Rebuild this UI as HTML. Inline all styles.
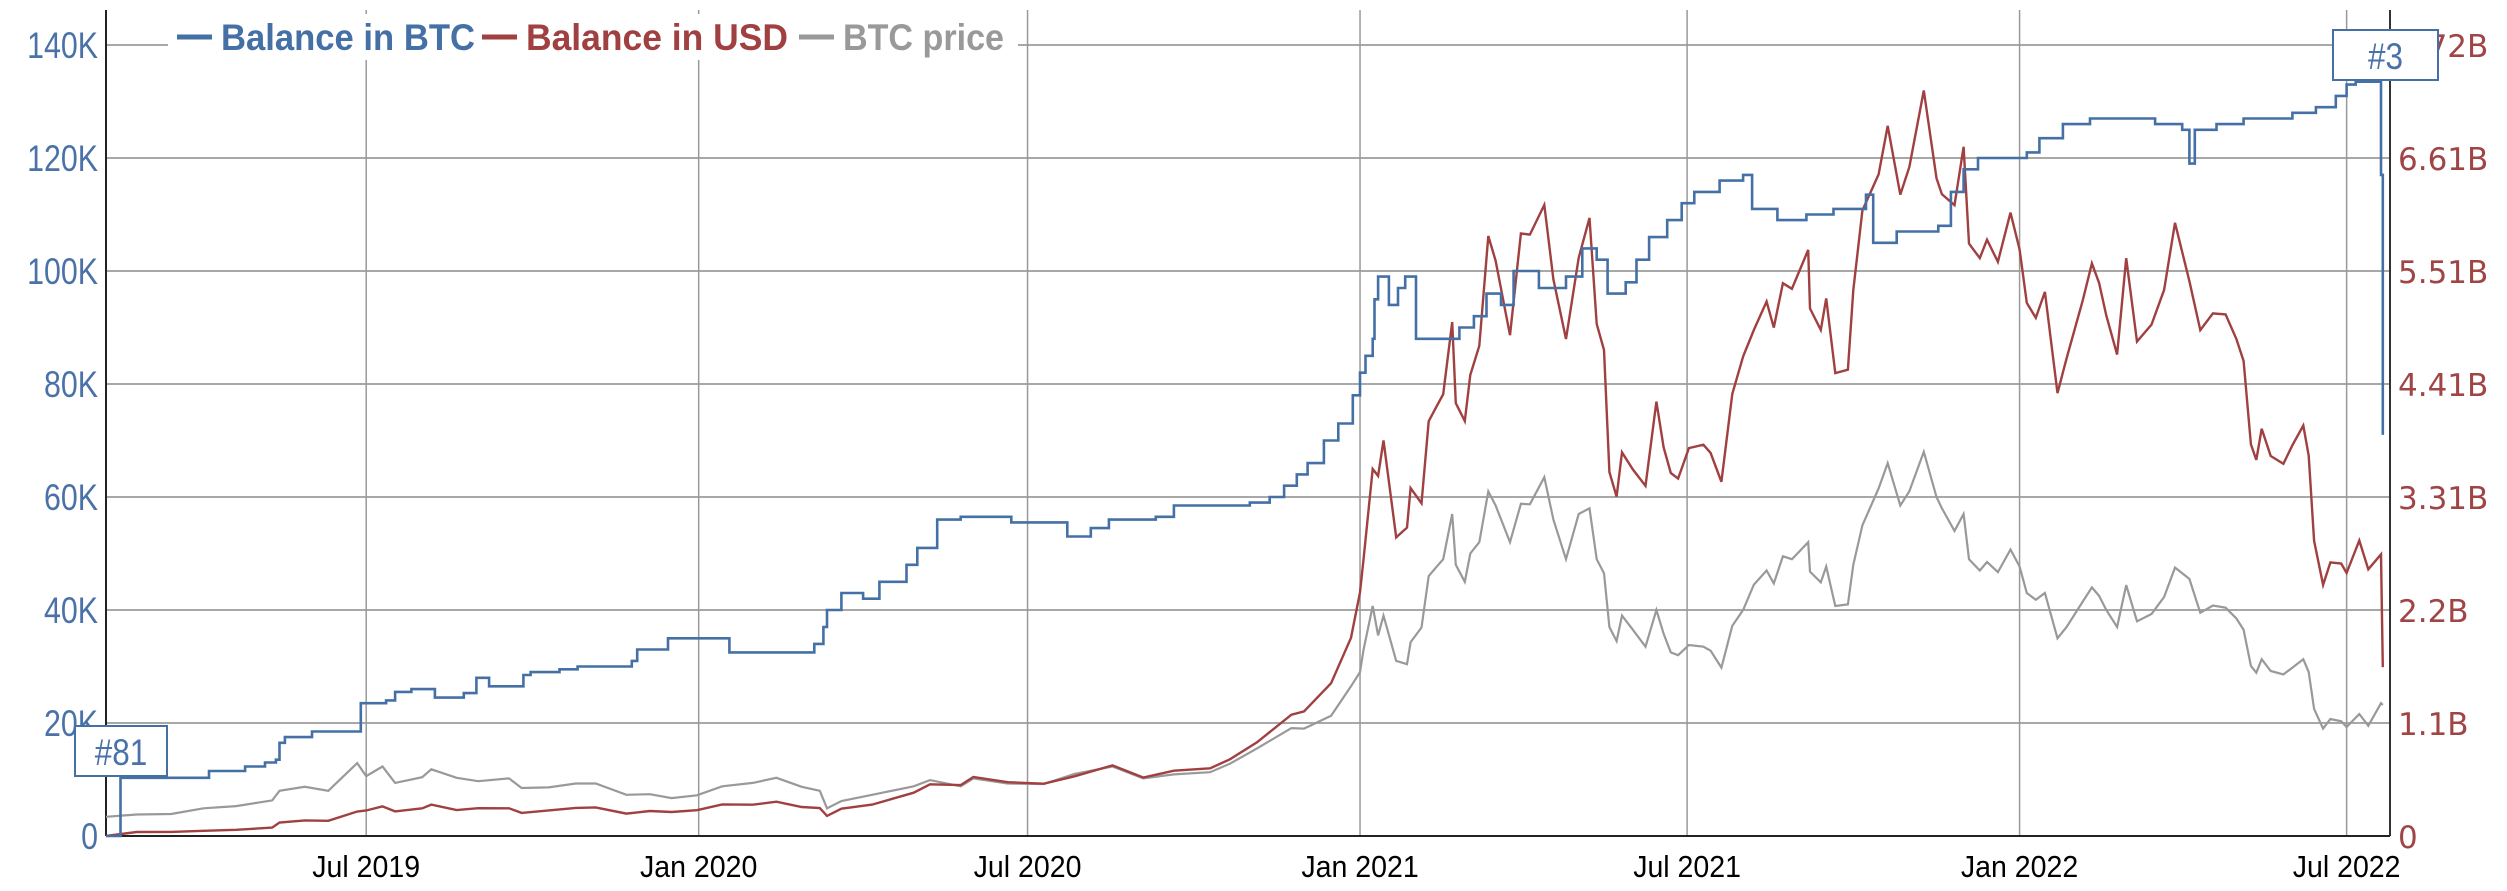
<!DOCTYPE html>
<html><head><meta charset="utf-8">
<style>
html,body{margin:0;padding:0;background:#fff;width:2507px;height:891px;overflow:hidden}
svg{display:block}
.lt{font-family:"Liberation Sans",sans-serif;font-size:37px;fill:#4a72a8}
.rt{font-family:"DejaVu Sans",sans-serif;font-size:31px;fill:#a04545}
.xt{font-family:"Liberation Sans",sans-serif;font-size:31px;fill:#000}
.lg{font-family:"Liberation Sans",sans-serif;font-size:37px;font-weight:bold}
</style></head><body>
<svg id="chart" width="2507" height="891"></svg>
<script>
// ---- data ----
const btcDates = ["2019-02-07","2019-02-15","2019-04-05","2019-04-25","2019-05-06","2019-05-12","2019-05-14","2019-05-17","2019-06-01","2019-06-28","2019-07-12","2019-07-17","2019-07-26","2019-08-08","2019-08-24","2019-08-31","2019-09-07","2019-09-26","2019-09-30","2019-10-16","2019-10-26","2019-11-25","2019-11-28","2019-12-15","2020-01-18","2020-03-05","2020-03-10","2020-03-12","2020-03-20","2020-04-01","2020-04-10","2020-04-25","2020-05-01","2020-05-12","2020-05-25","2020-06-22","2020-07-23","2020-08-05","2020-08-15","2020-09-10","2020-09-20","2020-11-01","2020-11-12","2020-11-20","2020-11-27","2020-12-03","2020-12-12","2020-12-20","2020-12-28","2021-01-01","2021-01-04","2021-01-08","2021-01-09","2021-01-11","2021-01-17","2021-01-22","2021-01-26","2021-02-01","2021-02-25","2021-03-05","2021-03-12","2021-03-20","2021-03-27","2021-04-10","2021-04-25","2021-05-04","2021-05-12","2021-05-18","2021-05-28","2021-06-03","2021-06-10","2021-06-20","2021-06-28","2021-07-05","2021-07-19","2021-08-01","2021-08-06","2021-08-20","2021-09-05","2021-09-20","2021-10-08","2021-10-12","2021-10-25","2021-11-17","2021-11-24","2021-12-01","2021-12-09","2022-01-05","2022-01-12","2022-01-25","2022-02-09","2022-03-17","2022-04-01","2022-04-05","2022-04-08","2022-04-20","2022-05-05","2022-06-01","2022-06-14","2022-06-25","2022-07-01","2022-07-06","2022-07-17","2022-07-20","2022-07-21"];
const btcValues = [0,10300,11500,12300,13000,13500,16500,17500,18500,23500,24000,25500,26000,24500,25300,28000,26500,28500,29000,29500,30000,31000,33000,35000,32500,34000,37000,40000,43000,42000,45000,48000,51000,56000,56500,55500,53000,54500,56000,56500,58500,59000,60000,62000,64000,66000,70000,73000,78000,82000,85000,88000,95000,99000,94000,97000,99000,88000,90000,92000,96000,94000,100000,97000,99000,104000,102000,96000,98000,102000,106000,109000,112000,114000,116000,117000,111000,109000,110000,111000,113500,105000,107000,108000,114000,118000,120000,121000,123500,126000,127000,126000,125000,119000,125000,126000,127000,128000,129000,131000,133000,133500,133500,117000,71000];
const priceDates = ["2019-02-07","2019-02-24","2019-03-15","2019-04-02","2019-04-20","2019-05-10","2019-05-14","2019-05-28","2019-06-10","2019-06-26","2019-07-01","2019-07-10","2019-07-17","2019-08-01","2019-08-06","2019-08-20","2019-09-01","2019-09-18","2019-09-25","2019-10-10","2019-10-25","2019-11-05","2019-11-22","2019-12-05","2019-12-17","2019-12-31","2020-01-14","2020-01-31","2020-02-13","2020-02-27","2020-03-08","2020-03-12","2020-03-20","2020-04-06","2020-04-29","2020-05-08","2020-05-25","2020-06-01","2020-06-20","2020-07-10","2020-07-27","2020-08-17","2020-09-03","2020-09-20","2020-10-10","2020-10-21","2020-11-05","2020-11-24","2020-12-01","2020-12-16","2020-12-27",
"2021-01-01","2021-01-03","2021-01-08","2021-01-11","2021-01-14","2021-01-21","2021-01-27","2021-01-29","2021-02-04","2021-02-08","2021-02-12","2021-02-16","2021-02-21","2021-02-23","2021-02-28","2021-03-03","2021-03-08","2021-03-13","2021-03-17","2021-03-25","2021-03-31","2021-04-05","2021-04-13","2021-04-18","2021-04-25","2021-05-02","2021-05-08","2021-05-12","2021-05-16","2021-05-19","2021-05-23","2021-05-26","2021-06-01","2021-06-08","2021-06-14","2021-06-18","2021-06-22","2021-06-26","2021-07-02","2021-07-10","2021-07-14","2021-07-20","2021-07-26","2021-08-01","2021-08-07","2021-08-14","2021-08-18","2021-08-23","2021-08-28","2021-09-06","2021-09-07","2021-09-13","2021-09-16","2021-09-21","2021-09-28","2021-10-01","2021-10-06","2021-10-15","2021-10-20","2021-10-27","2021-11-01","2021-11-09","2021-11-16","2021-11-19","2021-11-26","2021-12-01","2021-12-04","2021-12-10","2021-12-14","2021-12-20","2021-12-27",
"2022-01-01","2022-01-05","2022-01-10","2022-01-15","2022-01-22","2022-01-27","2022-02-05","2022-02-10","2022-02-14","2022-02-18","2022-02-24","2022-03-01","2022-03-07","2022-03-15","2022-03-22","2022-03-28","2022-04-05","2022-04-11","2022-04-18","2022-04-25","2022-05-01","2022-05-05","2022-05-09","2022-05-12","2022-05-15","2022-05-20","2022-05-27","2022-06-01","2022-06-07","2022-06-10","2022-06-13","2022-06-18","2022-06-22","2022-06-28","2022-07-01","2022-07-08","2022-07-13","2022-07-20","2022-07-21"];
const priceValues = [3400,3800,3900,4900,5300,6300,8000,8700,8000,12900,10600,12300,9400,10400,11800,10300,9700,10200,8500,8600,9300,9300,7300,7400,6700,7200,8800,9400,10300,8700,8000,4900,6200,7300,8800,9900,8800,10200,9300,9200,11000,12300,10200,10900,11300,12800,15500,19100,19000,21300,26500,
29000,33000,40700,35500,39000,31000,30400,34300,36900,46000,47500,49000,57000,48000,45000,50000,52000,61000,58500,52000,58800,58700,63500,56000,49000,57000,58000,49000,46500,37000,34500,39000,36500,33500,40000,35800,32500,32000,33800,33500,32800,29800,37200,40000,44500,47000,44700,49500,49000,52000,46800,44900,47700,40700,41000,48000,55000,61500,66000,58500,61000,68000,60000,58000,54000,57000,49000,47000,48500,46700,50700,
47700,43000,41800,43000,35000,37000,41500,44000,42500,40000,37000,44400,38000,39300,42300,47500,45500,39500,40800,40400,38500,36500,30100,28900,31300,29200,28600,29800,31300,29000,22500,19000,20700,20300,19300,21600,19500,23500,23200];
const leftTicks = [0,20000,40000,60000,80000,100000,120000,140000];
const leftTickLabels = ["0","20K","40K","60K","80K","100K","120K","140K"];
const rightTickLabels = ["0","1.1B","2.2B","3.31B","4.41B","5.51B","6.61B","7.72B"];
const xTickDates = ["2019-07-01","2020-01-01","2020-07-01","2021-01-01","2021-07-01","2022-01-01","2022-07-01"];
const xTickLabels = ["Jul 2019","Jan 2020","Jul 2020","Jan 2021","Jul 2021","Jan 2022","Jul 2022"];
const legendNames = ["Balance in BTC","Balance in USD","BTC price"];
const usdMax = 7.72e9, leftMax = 140000;

// ---- layout ----
const L=106,R=2390,B=836,T=45;
const t0=Date.parse("2019-02-07"), t1=Date.parse("2022-07-25");
const X=d=>L+(Date.parse(d)-t0)/(t1-t0)*(R-L);
const Y=v=>B-v/leftMax*(B-T);
const NS="http://www.w3.org/2000/svg";
const svg=document.getElementById('chart');
function mk(tag,attrs,parent){const e=document.createElementNS(NS,tag);for(const k in attrs)e.setAttribute(k,attrs[k]);(parent||svg).appendChild(e);return e;}
function condense(t,f){const w=t.getComputedTextLength();t.setAttribute('textLength',(w*f).toFixed(1));t.setAttribute('lengthAdjust','spacingAndGlyphs');}

// grid
leftTicks.forEach((v,i)=>{
  const g=mk('line',{x1:L,x2:R,y1:Y(v),y2:Y(v),stroke:'#a8a8a8','stroke-width':2});
  
  
  const t=mk('text',{x:98,y:Y(v)+13,'text-anchor':'end',class:'lt'});t.textContent=leftTickLabels[i];
  
  
  condense(t,0.82);
  const r=mk('text',{x:2398,y:Y(v)+12,class:'rt'});r.textContent=rightTickLabels[i];
  
  
});
xTickDates.forEach((d,i)=>{
  const g=mk('line',{x1:X(d),x2:X(d),y1:10,y2:B,stroke:'#9a9a9a','stroke-width':1.5});
  
  
  const t=mk('text',{x:X(d),y:877,'text-anchor':'middle',class:'xt'});t.textContent=xTickLabels[i];
  
  
  condense(t,0.92);
});
// axes
const ax1=mk('line',{x1:L,x2:L,y1:10,y2:B,stroke:'#222','stroke-width':2});


const ax2=mk('line',{x1:R,x2:R,y1:10,y2:B,stroke:'#333','stroke-width':2});


const ax3=mk('line',{x1:L,x2:R,y1:B,y2:B,stroke:'#222','stroke-width':2});



// series
function btcAt(d){const t=Date.parse(d);let v=0;for(let i=0;i<btcDates.length;i++){if(Date.parse(btcDates[i])<=t)v=btcValues[i];}return v;}
let pp='';priceDates.forEach((d,i)=>{pp+=(i?'L':'M')+X(d).toFixed(1)+','+Y(priceValues[i]).toFixed(1);});
const pl=mk('path',{d:pp,fill:'none',stroke:'#999','stroke-width':2.2});


let up='';priceDates.forEach((d,i)=>{const usd=btcAt(d)*priceValues[i];up+=(i?'L':'M')+X(d).toFixed(1)+','+Y(usd/usdMax*leftMax).toFixed(1);});
const ul=mk('path',{d:up,fill:'none',stroke:'#a04040','stroke-width':2.4});


let bp='';btcDates.forEach((d,i)=>{const x=X(d).toFixed(1),y=Y(btcValues[i]).toFixed(1);if(i===0)bp='M'+x+','+y;else bp+='H'+x+'V'+y;});
const bl=mk('path',{d:bp,fill:'none',stroke:'#4470a5','stroke-width':2.6});



// annotations
function note(txt,x,y,w,name,lx,ly){
  const g=mk('g',{});
  
  
  mk('line',{x1:lx,x2:lx,y1:y+50,y2:ly,stroke:'#4470a5','stroke-width':2},g);
  mk('rect',{x:x,y:y,width:w,height:50,fill:'#fff',stroke:'#4470a5','stroke-width':2},g);
  const t=mk('text',{x:x+w/2,y:y+39,'text-anchor':'middle',class:'lt'},g);t.textContent=txt;
  condense(t,0.85);
}
note('#81',75,726,92,'annotation-81',X(btcDates[1]),Y(btcValues[1]));
note('#3',2333,30,105,'annotation-3',X("2022-07-15"),Y(133500));

// legend
const lg=mk('g',{});


mk('rect',{x:168,y:14,width:850,height:46,fill:'#fff'},lg);
const legendColors=["#4470a5","#a04040","#999"];
const legendX=[177,482,799], legendW=[254,262,161];
legendNames.forEach((n,i)=>{
  const e=mk('g',{},lg);
  
  
  mk('line',{x1:legendX[i],x2:legendX[i]+35,y1:37,y2:37,stroke:legendColors[i],'stroke-width':5},e);
  const t=mk('text',{x:legendX[i]+44,y:50,class:'lg',fill:legendColors[i],textLength:legendW[i],lengthAdjust:'spacingAndGlyphs'},e);t.textContent=n;
});
</script>
</body></html>
